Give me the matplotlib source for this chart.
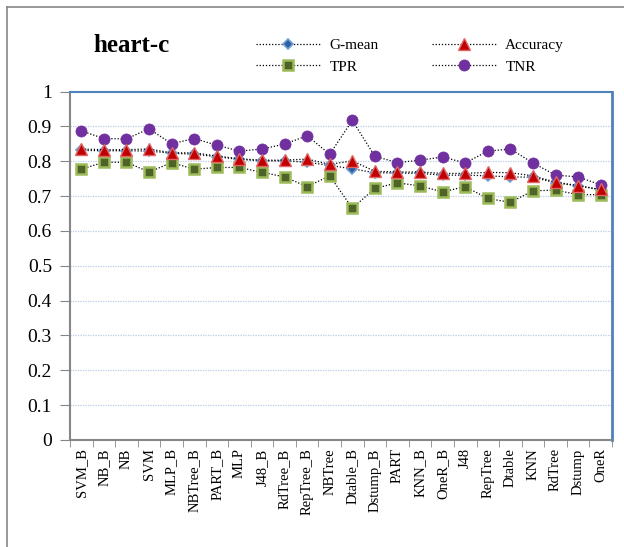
import numpy as np
import matplotlib
matplotlib.use("Agg")
import matplotlib.pyplot as plt
from matplotlib.lines import Line2D

plt.rcParams['font.family'] = ['Liberation Serif', 'DejaVu Serif']

# 数据区
categories = ["SVM_B", "NB_B", "NB", "SVM", "MLP_B", "NBTree_B", "PART_B", "MLP",
              "J48_B", "RdTree_B", "RepTree_B", "NBTree", "Dtable_B", "Dstump_B",
              "PART", "KNN_B", "OneR_B", "J48", "RepTree", "Dtable", "KNN",
              "RdTree", "Dstump", "OneR"]
gmean = [0.831, 0.830, 0.830, 0.829, 0.823, 0.820, 0.813, 0.805, 0.801, 0.801, 0.797, 0.788,
         0.778, 0.767, 0.766, 0.765, 0.760, 0.760, 0.758, 0.755, 0.754, 0.738, 0.729, 0.718]
accuracy = [0.835, 0.833, 0.833, 0.835, 0.824, 0.824, 0.815, 0.807, 0.803, 0.803, 0.806, 0.791,
            0.801, 0.771, 0.769, 0.769, 0.765, 0.765, 0.768, 0.767, 0.758, 0.740, 0.730, 0.719]
tpr = [0.777, 0.797, 0.797, 0.769, 0.796, 0.777, 0.782, 0.782, 0.768, 0.755, 0.727, 0.758,
       0.665, 0.722, 0.738, 0.729, 0.712, 0.727, 0.693, 0.682, 0.715, 0.717, 0.704, 0.704]
tnr = [0.887, 0.865, 0.864, 0.893, 0.850, 0.865, 0.846, 0.829, 0.835, 0.849, 0.873, 0.820,
       0.917, 0.814, 0.796, 0.803, 0.812, 0.795, 0.829, 0.835, 0.795, 0.760, 0.755, 0.732]
yticks = [0, 0.1, 0.2, 0.3, 0.4, 0.5, 0.6, 0.7, 0.8, 0.9, 1]

W, H = 624, 547
fig = plt.figure(figsize=(W / 100, H / 100), dpi=100)
ax = fig.add_axes([70 / W, 1 - 440 / H, 542 / W, 348.5 / H])

x = np.arange(len(categories))
ls = (0, (1, 1.5))
ax.plot(x, gmean, linestyle=ls, color="black", lw=0.9, marker="D", ms=5.5,
        mfc="#2E5E9E", mec="#6F9FD8", mew=1.2, label="G-mean", zorder=3)
ax.plot(x, tpr, linestyle=ls, color="black", lw=0.9, marker="s", ms=7,
        mfc="#4F6228", mec="#9BBB59", mew=1.8, label="TPR", zorder=3)
ax.plot(x, accuracy, linestyle=ls, color="black", lw=0.9, marker="^", ms=8,
        mfc="#C00000", mec="#E06666", mew=1.0, label="Accuracy", zorder=4)
ax.plot(x, tnr, linestyle=ls, color="black", lw=0.9, marker="o", ms=8,
        mfc="#7030A0", mec="#7030A0", mew=0.5, label="TNR", zorder=3)

ax.set_xlim(-0.5, len(categories) - 0.5)
ax.set_ylim(0, 1)
ax.set_yticks(yticks)
ax.set_yticklabels([f"{v:g}" for v in yticks], fontsize=14)
ax.set_xticks(x)
ax.set_xticklabels(categories, rotation=90, fontsize=10.5)
ax.tick_params(axis="x", length=0, pad=6)
ax.set_xticks(np.arange(-0.5, len(categories)), minor=True)
ax.tick_params(axis="x", which="minor", length=5, color="#868686", direction="out")
ax.tick_params(axis="y", length=7, color="#868686", direction="out", pad=6)

for v in yticks[1:-1]:
    ax.axhline(v, color="#B9CDE5", lw=0.9, linestyle=(0, (1, 1)), zorder=1)

ax.spines["left"].set_color("#868686")
ax.spines["bottom"].set_color("#868686")
ax.spines["left"].set_linewidth(1.5)
ax.spines["bottom"].set_linewidth(1.5)
ax.spines["top"].set_color("#4F81BD")
ax.spines["right"].set_color("#4F81BD")
ax.spines["top"].set_linewidth(1.5)
ax.spines["right"].set_linewidth(2)

fig.text(93 / W, 1 - 45 / H, "heart-c", fontsize=18, fontweight="bold", va="center", ha="left")

leg = fig.legend(loc="center", bbox_to_anchor=(410 / W, 1 - 56 / H), ncol=2, frameon=False,
                 fontsize=11, handlelength=4.2, columnspacing=3.5, labelspacing=0.5,
                 handletextpad=0.6)

# 外框
fig.add_artist(Line2D([7 / W, 7 / W], [0, 1 - 7 / H], transform=fig.transFigure,
                      color="#868686", lw=1.2))
fig.add_artist(Line2D([7 / W, 1], [1 - 7 / H, 1 - 7 / H], transform=fig.transFigure,
                      color="#868686", lw=1.2))

fig.savefig("out.png", dpi=100)
